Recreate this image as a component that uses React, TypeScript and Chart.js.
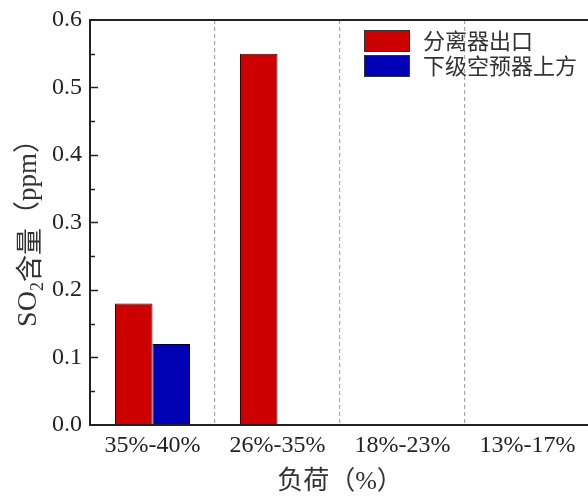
import React, { useEffect, useRef } from "react";
import { Chart, registerables } from "chart.js";

Chart.register(...registerables);

// Load ranges and SO2 readings at the two measuring points
const loadRanges = ["35%-40%", "26%-35%", "18%-23%", "13%-17%"];
const separatorOutlet = [0.18, 0.55, 0, 0];
const upperPreheater = [0.12, 0, 0, 0];
const seriesNames = ["分离器出口", "下级空预器上方"];
const seriesColors = ["#CC0000", "#0000B4"];
const yMin = 0;
const yMax = 0.6;
const yMajorStep = 0.1;
const yMinorStep = 0.05;

const latin = '"Liberation Serif", "Times New Roman", serif';
const cjk = '"Noto Sans CJK SC", sans-serif';
const mixed = '"Liberation Serif", "Noto Sans CJK SC", serif';

const framePlugin = {
  id: "frame",
  afterDraw(chart: any) {
    const { ctx, chartArea } = chart;
    const { left, right, top, bottom } = chartArea;
    const y = chart.scales.y;
    ctx.save();

    // axis frame
    ctx.strokeStyle = "#222";
    ctx.lineWidth = 2;
    ctx.beginPath();
    ctx.moveTo(left, top);
    ctx.lineTo(right, top);
    ctx.lineTo(right, bottom);
    ctx.lineTo(left, bottom);
    ctx.closePath();
    ctx.stroke();

    // inward major / minor ticks on the value axis
    ctx.lineWidth = 1.5;
    const n = Math.round((yMax - yMin) / yMinorStep);
    for (let i = 1; i < n; i++) {
      const v = yMin + i * yMinorStep;
      const py = Math.round(y.getPixelForValue(v)) + 0.5;
      const major = i % Math.round(yMajorStep / yMinorStep) === 0;
      ctx.beginPath();
      ctx.moveTo(left, py);
      ctx.lineTo(left + (major ? 8 : 5), py);
      ctx.stroke();
    }

    // legend
    const bx = 364;
    const bw = 46;
    const bh = 22;
    const rows = [30, 55];
    seriesNames.forEach((name, i) => {
      const by = rows[i];
      ctx.fillStyle = seriesColors[i];
      ctx.fillRect(bx, by, bw, bh);
      ctx.strokeStyle = "#333";
      ctx.lineWidth = 1;
      ctx.strokeRect(bx + 0.5, by + 0.5, bw - 1, bh - 1);
      ctx.fillStyle = "#333";
      ctx.font = `22px ${cjk}`;
      ctx.textAlign = "left";
      ctx.textBaseline = "middle";
      ctx.fillText(name, 423, by + bh / 2);
    });

    // value-axis title: SO2含量（ppm）
    ctx.translate(29, (top + bottom) / 2 + 4);
    ctx.rotate(-Math.PI / 2);
    ctx.fillStyle = "#333";
    ctx.textBaseline = "middle";
    ctx.textAlign = "left";
    const partA = "SO";
    const partSub = "2";
    const partB = "含量";
    const partC = "（ppm）";
    ctx.font = `28px ${latin}`;
    const wA = ctx.measureText(partA).width;
    ctx.font = `18px ${latin}`;
    const wSub = ctx.measureText(partSub).width;
    ctx.font = `27px ${cjk}`;
    const wB = ctx.measureText(partB).width;
    ctx.font = `27px ${mixed}`;
    const wC = ctx.measureText(partC).width;
    let x = -(wA + wSub + wB + wC) / 2;
    ctx.font = `28px ${latin}`;
    ctx.fillText(partA, x, 0);
    x += wA;
    ctx.font = `18px ${latin}`;
    ctx.fillText(partSub, x, 9);
    x += wSub;
    ctx.font = `27px ${cjk}`;
    ctx.fillText(partB, x, 0);
    x += wB;
    ctx.font = `27px ${mixed}`;
    ctx.fillText(partC, x, 0);

    ctx.restore();
  },
};

export default function App() {
  const canvasRef = useRef<HTMLCanvasElement | null>(null);

  useEffect(() => {
    if (!canvasRef.current) return;
    const chart = new Chart(canvasRef.current, {
      type: "bar",
      data: {
        labels: loadRanges,
        datasets: [
          {
            label: seriesNames[0],
            data: separatorOutlet,
            backgroundColor: seriesColors[0],
            borderColor: "#3a0000",
            borderWidth: 1,
          },
          {
            label: seriesNames[1],
            data: upperPreheater,
            backgroundColor: seriesColors[1],
            borderColor: "#00003a",
            borderWidth: 1,
          },
        ],
      },
      options: {
        animation: false,
        responsive: false,
        maintainAspectRatio: false,
        devicePixelRatio: 1,
        layout: { padding: { top: 20, right: 10, left: 0, bottom: 0 } },
        datasets: {
          bar: { categoryPercentage: 0.6, barPercentage: 1.0 },
        },
        plugins: {
          legend: { display: false },
          tooltip: { enabled: false },
        },
        scales: {
          x: {
            offset: true,
            grid: {
              display: true,
              offset: true,
              drawTicks: false,
              color: "#a8a8a8",
              lineWidth: 1.2,
            },
            border: { display: false, dash: [4, 3] },
            ticks: {
              color: "#222",
              font: { family: latin, size: 24 },
              padding: 6,
              maxRotation: 0,
            },
            title: {
              display: true,
              text: "负荷（%）",
              color: "#333",
              font: { family: mixed, size: 26 },
              padding: { top: 0, bottom: 0 },
            },
            afterFit(scale: any) {
              scale.height = 73;
            },
          },
          y: {
            min: yMin,
            max: yMax,
            grid: { display: false, drawTicks: false },
            border: { display: false },
            ticks: {
              stepSize: yMajorStep,
              color: "#222",
              font: { family: latin, size: 24 },
              padding: 8,
              callback: (v: any) => Number(v).toFixed(1),
            },
            afterFit(scale: any) {
              scale.width = 90;
            },
          },
        },
      },
      plugins: [
        {
          id: "pinArea",
          afterLayout(c: any) {
            // keep the plot frame at a fixed top edge
            const area = c.chartArea;
            const dy = area.top - 20;
            if (dy !== 0) {
              area.top = 20;
              area.height = area.bottom - area.top;
              const y = c.scales.y;
              y.top = 20;
              y.height = y.bottom - y.top;
              y.configure();
            }
          },
        },
        framePlugin,
      ],
    } as any);
    return () => chart.destroy();
  }, []);

  return (
    <div
      style={{
        position: "absolute",
        left: 0,
        top: 0,
        width: 588,
        height: 498,
        overflow: "hidden",
        background: "#fff",
      }}
    >
      <canvas ref={canvasRef} width={600} height={498} style={{ display: "block" }} />
    </div>
  );
}
